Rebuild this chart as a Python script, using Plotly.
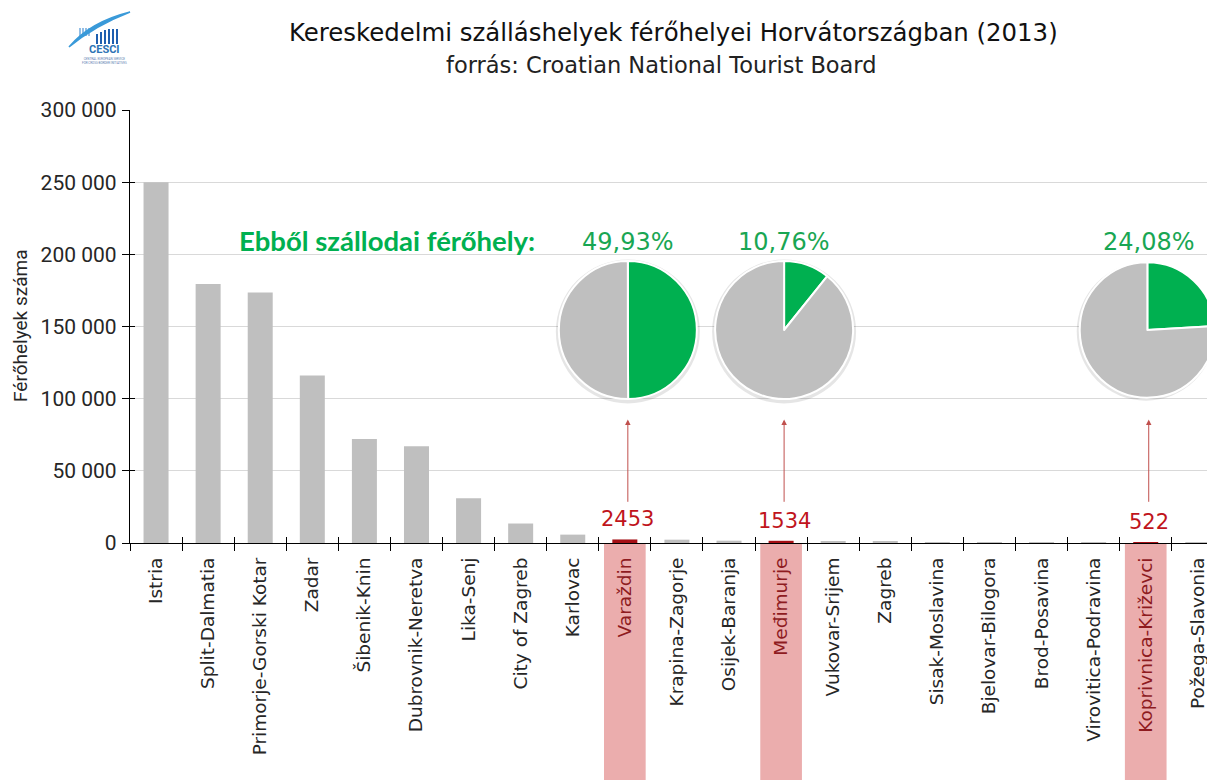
import plotly.graph_objects as go

# ---------------- data ----------------
regions = ["Istria", "Split-Dalmatia", "Primorje-Gorski Kotar", "Zadar", "Šibenik-Knin",
           "Dubrovnik-Neretva", "Lika-Senj", "City of Zagreb", "Karlovac", "Varaždin",
           "Krapina-Zagorje", "Osijek-Baranja", "Međimurje", "Vukovar-Srijem", "Zagreb",
           "Sisak-Moslavina", "Bjelovar-Bilogora", "Brod-Posavina", "Virovitica-Podravina",
           "Koprivnica-Križevci", "Požega-Slavonia"]
beds = [250000, 179500, 173500, 116000, 72000,
        67000, 31000, 13500, 5800, 2453,
        2300, 1600, 1534, 1000, 700,
        650, 550, 350, 250,
        522, 250]
highlighted = ["Varaždin", "Međimurje", "Koprivnica-Križevci"]
hotel_share = [49.93, 10.76, 24.08]
hotel_share_labels = ["49,93%", "10,76%", "24,08%"]
y_ticks = [0, 50000, 100000, 150000, 200000, 250000, 300000]

title_text = "Kereskedelmi szálláshelyek férőhelyei Horvátországban (2013)"
subtitle_text = "forrás: Croatian National Tourist Board"
y_title = "Férőhelyek száma"
pie_caption = "Ebből szállodai férőhely:"

# ---------------- styling / geometry ----------------
OFF = 8  # page body margin of the html page
W, H = 1215, 780
ML, MR, MT, MB = 122, 8, 102, 245
PW, PH = W - ML - MR, H - MT - MB
XR = [-0.5, 20.33]
YR = [0, 300000]

GRAY = "#BFBFBF"
DARKRED = "#A50F15"
LABELRED = "#C0141C"
GREEN = "#00B050"
PCTGREEN = "#19A653"
PINK = "#EBADAD"
TXT = "#262626"
DIN = "DejaVu Sans"
SHIFT = 3  # callouts sit slightly right of the category centre

idx = list(range(len(regions)))
hi_idx = [regions.index(r) for r in highlighted]
bar_colors = [DARKRED if r in highlighted else GRAY for r in regions]
ticktext = [f"<span style='color:#8E1B1F'>{r}</span>" if r in highlighted else r for r in regions]
bounds = [i - 0.5 for i in range(len(regions) + 1)]


def xfrac(v):
    return (v - XR[0]) / (XR[1] - XR[0])


def sx(px):  # screen x pixel -> paper x
    return (px - OFF - ML) / PW


def sy(py):  # screen y pixel -> paper y
    return (MT + PH - (py - OFF)) / PH


def rx_(px):  # screen x -> pixel offset from plot-area left
    return px - OFF - ML


def ry_(py):  # screen y -> pixel offset (upwards) from plot-area top
    return MT + OFF - py


fig = go.Figure()

fig.add_trace(go.Bar(x=idx, y=beds, marker=dict(color=bar_colors, line=dict(width=0)),
                     width=0.48, hoverinfo="skip", showlegend=False))

# invisible helpers for overlay axes (crossing tick marks)
fig.add_trace(go.Scatter(x=[0], y=[0], xaxis="x2", yaxis="y", mode="markers",
                         marker=dict(opacity=0), hoverinfo="skip", showlegend=False))
fig.add_trace(go.Scatter(x=[0], y=[0], xaxis="x", yaxis="y2", mode="markers",
                         marker=dict(opacity=0), hoverinfo="skip", showlegend=False))

# pies
R = 69
pie_cy = sy(330)
rx, ry = R / PW, R / PH
for k, i in enumerate(hi_idx):
    cx = xfrac(i) + SHIFT / PW
    sr = R + 3
    fig.add_trace(go.Pie(values=[1], labels=["s"], marker=dict(colors=["rgba(0,0,0,0.10)"], line=dict(width=0)),
                         domain=dict(x=[max(0, cx - sr / PW), min(1, cx + sr / PW)],
                                     y=[pie_cy - sr / PH - 1.5 / PH, pie_cy + sr / PH - 1.5 / PH]),
                         textinfo="none", hoverinfo="skip", showlegend=False, sort=False))
    fig.add_trace(go.Pie(values=[hotel_share[k], 100 - hotel_share[k]], labels=["szálloda", "egyéb"],
                         marker=dict(colors=[GREEN, GRAY], line=dict(color="white", width=2)),
                         domain=dict(x=[max(0, cx - rx), min(1, cx + rx)], y=[pie_cy - ry, pie_cy + ry]),
                         direction="clockwise", rotation=0, sort=False,
                         textinfo="none", hoverinfo="skip", showlegend=False))

shapes = []
annotations = []
for k, i in enumerate(hi_idx):
    shapes.append(dict(type="rect", xref="x", yref="paper", x0=i - 0.4, x1=i + 0.4,
                       y0=-MB / PH, y1=0, fillcolor=PINK, line=dict(width=0), layer="below"))
    annotations.append(dict(x=i, y=beds[i], xref="x", yref="y", text=f"{beds[i]}",
                            showarrow=False, xanchor="center", yanchor="bottom", yshift=6, xshift=SHIFT,
                            font=dict(family=DIN, size=21, color=LABELRED)))
    annotations.append(dict(x=i, y=85500, ax=i, ay=27500, xref="x", yref="y", axref="x", ayref="y",
                            text="", showarrow=True, arrowhead=2, arrowsize=1.1, arrowwidth=1,
                            arrowcolor="#C0504D", xshift=SHIFT))
    annotations.append(dict(x=i, y=sy(242), xref="x", yref="paper", xshift=SHIFT,
                            text=hotel_share_labels[k], showarrow=False, xanchor="center", yanchor="middle",
                            font=dict(family=DIN, size=24, color=PCTGREEN)))


def txt(x, y, text, size, color, family, **kw):
    d = dict(x=sx(x), y=sy(y), xref="paper", yref="paper", text=text, showarrow=False,
             xanchor="center", yanchor="middle", font=dict(family=family, size=size, color=color))
    d.update(kw)
    return d


annotations += [
    txt(387, 240, f"<b>{pie_caption}</b>", 27.5, GREEN, "Lato"),
    txt(673, 33, title_text, 24.4, "#111111", DIN),
    txt(661, 65, subtitle_text, 22.5, "#222222", DIN),
    txt(20, 326, y_title, 19, TXT, "Roboto", textangle=-90),
    txt(104, 50, "<b>CESCI</b>", 11, "#2E74B5", "Roboto"),
    txt(104, 61, "CENTRAL EUROPEAN SERVICE<br>FOR CROSS-BORDER INITIATIVES", 3, "#5B7DB1", "Roboto"),
]

# logo graphics (pixel-sized shapes anchored at the top-left of the plot area)
logo_bars = [(97, 34), (101, 32), (105, 30), (109, 29), (113, 29), (117, 29)]
for bx, top in logo_bars:
    shapes.append(dict(type="line", xref="paper", yref="paper", xsizemode="pixel", ysizemode="pixel",
                       xanchor=0, yanchor=1, x0=rx_(bx), x1=rx_(bx), y0=ry_(44), y1=ry_(top),
                       line=dict(color="#1F5FAF", width=2)))
for bx in [80, 83, 86, 89]:
    shapes.append(dict(type="line", xref="paper", yref="paper", xsizemode="pixel", ysizemode="pixel",
                       xanchor=0, yanchor=1, x0=rx_(bx), x1=rx_(bx), y0=ry_(36), y1=ry_(28),
                       line=dict(color="#6FA8DC", width=1.5)))
shapes.append(dict(type="path", xref="paper", yref="paper", xsizemode="pixel", ysizemode="pixel",
                   xanchor=0, yanchor=1,
                   path=(f"M {rx_(69)},{ry_(47)} Q {rx_(90)},{ry_(22)} {rx_(130)},{ry_(12)} "
                         f"Q {rx_(94)},{ry_(26)} {rx_(69)},{ry_(47)} Z"),
                   fillcolor="#3A9AD9", line=dict(color="#3A9AD9", width=1.5)))

fig.update_layout(
    width=W, height=H,
    margin=dict(l=ML, r=MR, t=MT, b=MB, autoexpand=False),
    paper_bgcolor="white", plot_bgcolor="white",
    separators=", ",
    shapes=shapes,
    annotations=annotations,
    xaxis=dict(range=XR, tickmode="array", tickvals=idx, ticktext=ticktext, tickangle=-90,
               ticks="", showline=True, linecolor="black", linewidth=1.3, showgrid=False,
               zeroline=False, automargin=False, ticklabelstandoff=6,
               tickfont=dict(family=DIN, size=18.5, color=TXT),
               minor=dict(tickmode="array", tickvals=bounds, ticks="outside", ticklen=7,
                          tickwidth=1.3, tickcolor="black", showgrid=False)),
    xaxis2=dict(range=XR, overlaying="x", anchor="y", side="bottom", tickmode="array",
                tickvals=bounds, ticks="inside", ticklen=6, tickwidth=1.3, tickcolor="black",
                showticklabels=False, showline=False, showgrid=False, zeroline=False),
    yaxis=dict(range=YR, tickmode="array", tickvals=y_ticks, tickformat=",d", ticks="outside",
               ticklen=7, tickwidth=1.3, tickcolor="black", showline=True, linecolor="black",
               linewidth=1.3, showgrid=True, gridcolor="#D9D9D9", gridwidth=1.2, zeroline=False,
               automargin=False, ticklabelstandoff=1,
               tickfont=dict(family="Roboto", size=21, color=TXT)),
    yaxis2=dict(range=YR, overlaying="y", anchor="x", side="left", tickmode="array",
                tickvals=y_ticks, ticks="inside", ticklen=5, tickwidth=1.3, tickcolor="black",
                showticklabels=False, showline=False, showgrid=False, zeroline=False),
)

fig.write_html("out.html")
